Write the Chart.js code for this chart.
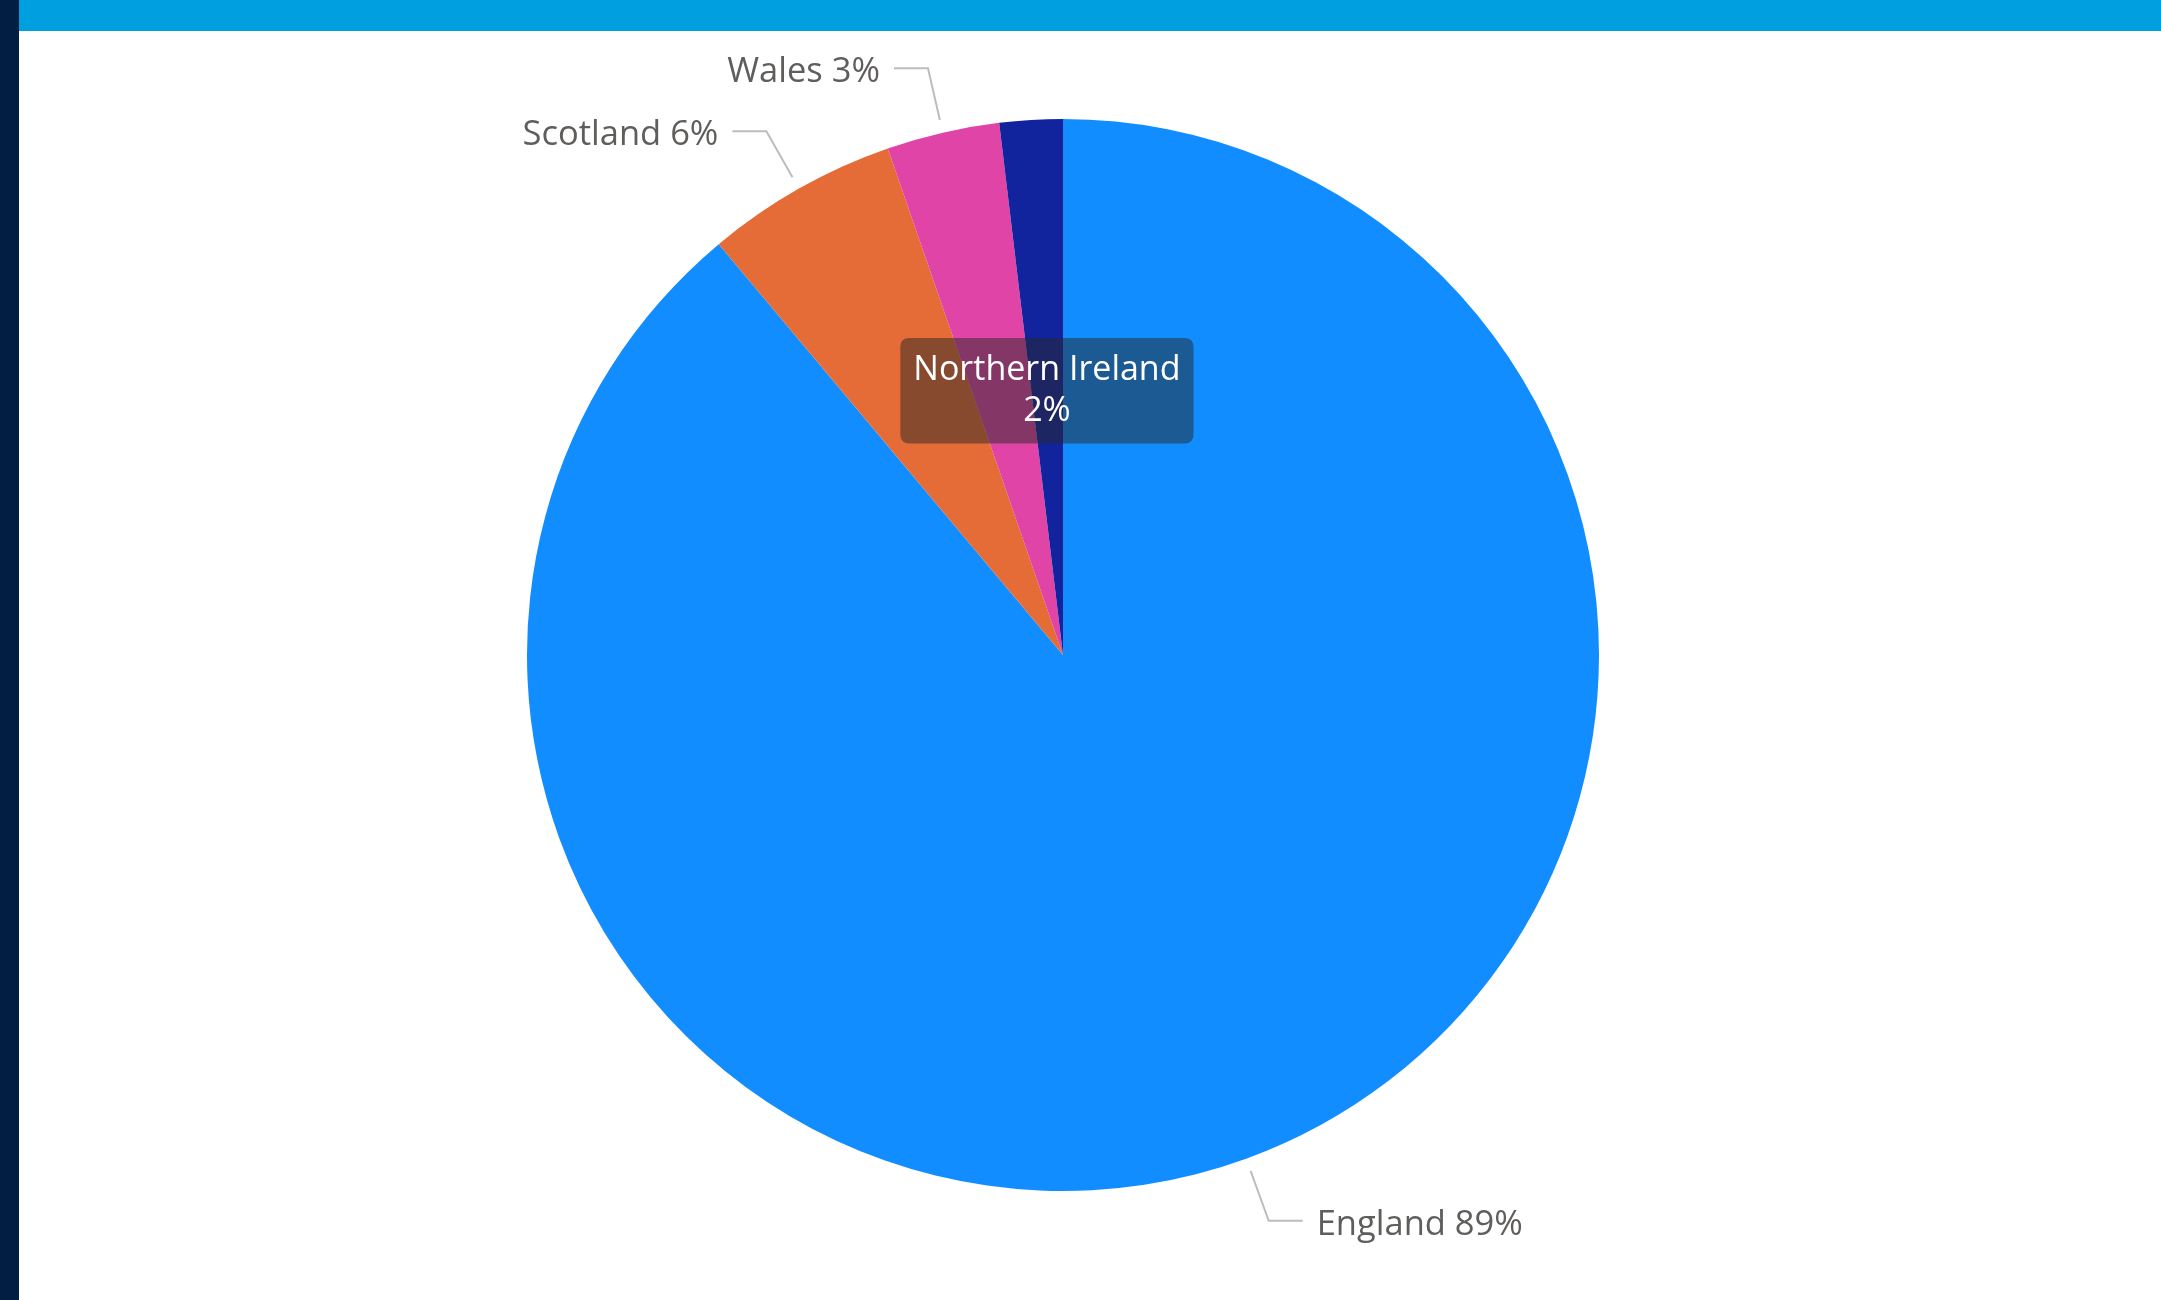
<!DOCTYPE html>
<html>
<head>
<meta charset="utf-8">
<title>UK nations share</title>
<script src="https://cdn.jsdelivr.net/npm/chart.js@4.4.1/dist/chart.umd.min.js"></script>
<style>
  html, body { margin: 0; padding: 0; background: #ffffff; overflow: hidden; }
  body { width: 2161px; height: 1300px; position: relative; }
  #sidebar { position: absolute; left: 0; top: 0; width: 19px; height: 1300px; background: #021E42; }
  #topbar { position: absolute; left: 19px; top: 0; width: 2142px; height: 31px; background: #009FDF; }
  #chartBox { position: absolute; left: 19px; top: 31px; width: 2142px; height: 1269px; }
</style>
</head>
<body>
<div id="sidebar"></div>
<div id="topbar"></div>
<div id="chartBox"><canvas id="pie" width="2142" height="1269"></canvas></div>
<script>
// Share of total by nation (percent)
const regions = ['England', 'Scotland', 'Wales', 'Northern Ireland'];
const shares = [88.9, 5.8, 3.4, 1.9];
const sliceColors = ['#118DFF', '#E66C37', '#E044A7', '#12239E'];
// Northern Ireland's label is replaced by the hover card
const showLabel = [true, true, true, false];
const hoverIndex = 3;

const FONT = "'Open Sans', 'Segoe UI', sans-serif";
const total = shares.reduce((a, b) => a + b, 0);
const pct = v => Math.round(v / total * 100) + '%';

// Outside labels with bent leader lines
const leaderLabels = {
  id: 'leaderLabels',
  afterDatasetsDraw(chart) {
    const ctx = chart.ctx;
    const meta = chart.getDatasetMeta(0);
    ctx.save();
    ctx.font = '34.5px ' + FONT;
    meta.data.forEach((arc, i) => {
      if (!showLabel[i]) return;
      const p = arc.getProps(['x', 'y', 'startAngle', 'endAngle', 'outerRadius'], true);
      const mid = (p.startAngle + p.endAngle) / 2;
      const c = Math.cos(mid), s = Math.sin(mid);
      const r0 = p.outerRadius + 13, r1 = p.outerRadius + 66;
      const x0 = p.x + c * r0, y0 = p.y + s * r0;
      const x1 = p.x + c * r1, y1 = p.y + s * r1;
      const dir = c >= 0 ? 1 : -1;
      const x2 = x1 + dir * 34;
      ctx.strokeStyle = '#BDBDBD';
      ctx.lineWidth = 2;
      ctx.beginPath();
      ctx.moveTo(x0, y0);
      ctx.lineTo(x1, y1);
      ctx.lineTo(x2, y1);
      ctx.stroke();
      ctx.fillStyle = '#605E5C';
      ctx.textAlign = dir > 0 ? 'left' : 'right';
      ctx.textBaseline = 'middle';
      ctx.fillText(regions[i] + ' ' + pct(shares[i]), x2 + dir * 14, y1 + 4);
    });
    ctx.restore();
  }
};

// Hover card sits over the upper part of the pie
Chart.Tooltip.positioners.upperPie = function (items) {
  if (!items.length) return false;
  const arc = items[0].element;
  return { x: arc.x - 0.03 * arc.outerRadius, y: arc.y - 0.493 * arc.outerRadius };
};

const chart = new Chart(document.getElementById('pie'), {
  type: 'pie',
  data: {
    labels: regions,
    datasets: [{
      data: shares,
      backgroundColor: sliceColors,
      borderWidth: 0,
      hoverBorderWidth: 0,
      hoverOffset: 0
    }]
  },
  options: {
    responsive: false,
    animation: false,
    events: [],
    layout: { padding: { left: 508, right: 562, top: 88, bottom: 109 } },
    plugins: {
      legend: { display: false },
      tooltip: {
        animation: false,
        position: 'upperPie',
        xAlign: 'center',
        yAlign: 'center',
        caretSize: 0,
        caretPadding: 0,
        displayColors: false,
        backgroundColor: 'rgba(40,40,40,0.5)',
        cornerRadius: 9,
        padding: { left: 13, right: 13, top: 12, bottom: 12 },
        titleFont: { family: FONT, size: 34, weight: 'normal' },
        bodyFont: { family: FONT, size: 34, weight: 'normal' },
        titleColor: '#ffffff',
        bodyColor: '#ffffff',
        titleAlign: 'center',
        bodyAlign: 'center',
        titleMarginBottom: 0,
        callbacks: {
          title: items => items[0].label,
          label: item => pct(item.raw)
        }
      }
    }
  },
  plugins: [leaderLabels]
});

chart.tooltip.setActiveElements([{ datasetIndex: 0, index: hoverIndex }], { x: 0, y: 0 });
chart.update();
</script>
</body>
</html>
